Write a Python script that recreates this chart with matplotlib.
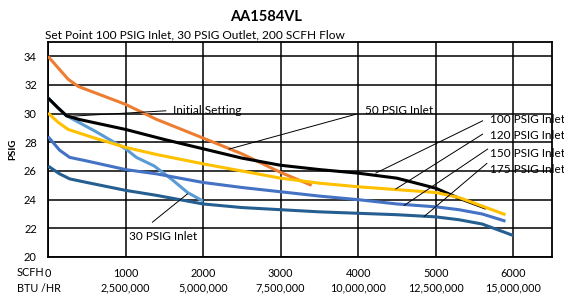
import matplotlib
matplotlib.use("Agg")
import matplotlib.pyplot as plt

plt.rcParams['font.family'] = ['Lato', 'DejaVu Sans']

# flow (SCFH) vs outlet pressure (PSIG)
x_50 = [0, 130, 260, 390, 1000, 1400, 2000, 2500, 3000, 3400]
y_50 = [34.0, 33.2, 32.4, 31.9, 30.65, 29.6, 28.3, 27.2, 25.9, 25.0]

x_100 = [0, 130, 240, 400, 1000, 1500, 2000, 2500, 3000, 3500, 4000, 4500, 5000, 5300, 5650]
y_100 = [31.1, 30.4, 29.85, 29.6, 28.9, 28.2, 27.55, 26.9, 26.4, 26.1, 25.85, 25.5, 24.8, 24.1, 23.4]

x_30 = [0, 130, 240, 600, 1000, 1140, 1370, 1600, 1800, 2000]
y_30 = [31.1, 30.4, 29.85, 28.8, 27.55, 26.95, 26.35, 25.4, 24.5, 23.9]

x_120 = [0, 130, 260, 600, 1000, 1400, 2000, 2500, 3000, 3500, 4000, 4500, 5000, 5300, 5600, 5900]
y_120 = [30.05, 29.4, 28.9, 28.3, 27.65, 27.15, 26.5, 26.0, 25.5, 25.15, 24.9, 24.7, 24.5, 24.15, 23.55, 22.95]

x_150 = [0, 150, 280, 500, 1000, 1400, 2000, 2500, 3000, 3500, 4000, 4500, 5000, 5300, 5600, 5900]
y_150 = [28.4, 27.45, 26.95, 26.7, 26.1, 25.8, 25.2, 24.85, 24.55, 24.25, 24.0, 23.7, 23.5, 23.3, 23.0, 22.5]

x_175 = [0, 150, 280, 500, 1000, 1400, 2000, 2500, 3000, 3500, 4000, 4500, 5000, 5300, 5600, 5800, 6000]
y_175 = [26.35, 25.8, 25.45, 25.2, 24.65, 24.3, 23.7, 23.45, 23.3, 23.15, 23.05, 22.95, 22.8, 22.6, 22.3, 21.9, 21.5]

scfh_ticks = [0, 1000, 2000, 3000, 4000, 5000, 6000]
btu_labels = ['', '2,500,000', '5,000,000', '7,500,000', '10,000,000', '12,500,000', '15,000,000']
psig_ticks = [20, 22, 24, 26, 28, 30, 32, 34]

# callouts: label, text position, line start, line end
callouts = [
    ('Initial Setting', (1610, 30.2), (1519, 30.2), (228, 29.8)),
    ('50 PSIG Inlet', (4090, 30.2), (3971, 29.96), (2335, 27.53)),
    ('30 PSIG Inlet', (1040, 21.44), (1347, 22.43), (1798, 24.4)),
    ('100 PSIG Inlet', (5700, 29.6), (5605, 29.5), (4229, 25.86)),
    ('120 PSIG Inlet', (5700, 28.5), (5605, 28.57), (4486, 24.75)),
    ('150 PSIG Inlet', (5700, 27.25), (5670, 27.53), (4594, 23.6)),
    ('175 PSIG Inlet', (5700, 26.1), (5660, 26.53), (4852, 22.83)),
]

fig = plt.figure(figsize=(5.64, 2.98), dpi=100)
ax = fig.add_axes([48 / 564, 1 - 257 / 298, 504 / 564, 215 / 298])

lw = 2.2
ax.plot(x_50, y_50, color='#ED7D31', lw=lw, solid_capstyle='butt', zorder=3)
ax.plot(x_30, y_30, color='#5B9BD5', lw=lw, solid_capstyle='butt', zorder=3)
ax.plot(x_100, y_100, color='#000000', lw=lw, solid_capstyle='butt', zorder=3)
ax.plot(x_120, y_120, color='#FFC000', lw=lw, solid_capstyle='butt', zorder=3)
ax.plot(x_150, y_150, color='#4472C4', lw=lw, solid_capstyle='butt', zorder=3)
ax.plot(x_175, y_175, color='#255E91', lw=lw, solid_capstyle='butt', zorder=3)

for label, tpos, p0, p1 in callouts:
    ax.plot([p0[0], p1[0]], [p0[1], p1[1]], color='black', lw=0.7, zorder=4)
    ax.text(tpos[0], tpos[1], label, fontsize=8.5, va='center', ha='left',
            zorder=5, clip_on=False)

ax.set_xlim(0, 6500)
ax.set_ylim(20, 35)
ax.set_xticks(scfh_ticks)
labels = [f'{t}\n{b}' if b else str(t) for t, b in zip(scfh_ticks, btu_labels)]
ax.set_xticklabels(labels, fontsize=7.8, linespacing=1.4)
ax.set_yticks(psig_ticks)
ax.set_yticklabels([str(t) for t in psig_ticks], fontsize=8)
ax.tick_params(length=0)
ax.tick_params(axis='y', pad=8)
ax.tick_params(axis='x', pad=8)
ax.grid(True, color='black', lw=1.1)
ax.set_axisbelow(True)
for s in ax.spines.values():
    s.set_linewidth(1.3)
    s.set_color('black')

fig.text(17 / 564, 1 - 273 / 298, 'SCFH', fontsize=7.8, va='center', ha='left')
fig.text(17 / 564, 1 - 289 / 298, 'BTU /HR', fontsize=7.8, va='center', ha='left')

fig.text(266 / 564, 1 - 17 / 298, 'AA1584VL', fontsize=10.5, fontweight='bold',
         ha='center', va='center')
fig.text(45 / 564, 1 - 35 / 298, 'Set Point 100 PSIG Inlet, 30 PSIG Outlet, 200 SCFH Flow',
         fontsize=8.6, ha='left', va='center')
fig.text(13 / 564, 0.5, 'PSIG', fontsize=7, fontweight='bold', rotation=90,
         ha='center', va='center')

fig.savefig('out.png', dpi=100)
